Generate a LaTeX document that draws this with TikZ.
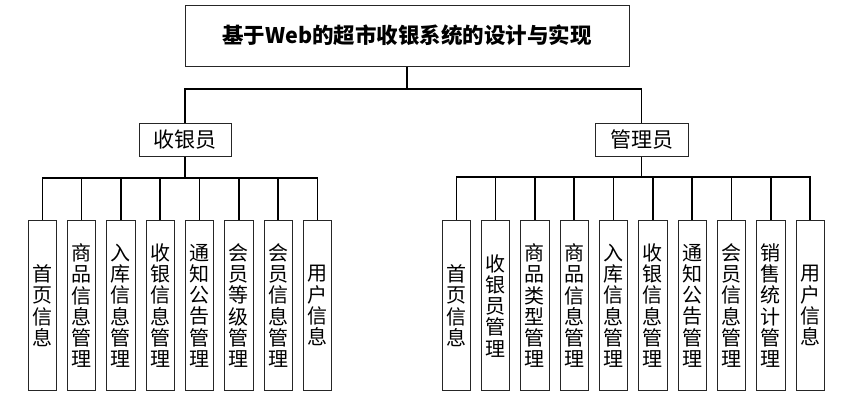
\documentclass[tikz,border=0pt]{standalone}
\usepackage{fontspec}
\newfontfamily\cjk{Noto Sans CJK SC}
\begin{document}
\begin{tikzpicture}[x=1pt,y=-1pt,
  box/.style={draw=black!85,line width=1pt,inner sep=0pt,align=center},
  leaf/.style={box,minimum width=28.3pt,minimum height=170pt,font=\cjk\fontsize{20}{21.3}\selectfont},
  role/.style={box,minimum width=92pt,minimum height=33pt,font=\cjk\fontsize{21}{24}\selectfont},
  conn/.style={line width=1.4pt,black}]
\useasboundingbox (0,0) rectangle (843,402);
\node[box,minimum width=444pt,minimum height=61pt,font=\cjk\bfseries\fontsize{21.5}{24}\selectfont] (title) at (407,35.5) {基于Web的超市收银系统的设计与实现};
\node[role] (cash) at (185,139.5) {收银员};
\node[role,minimum width=93pt] (admin) at (641.5,139.5) {管理员};
\coordinate (j0) at (407,89);
\draw[conn] (title.south) -- (j0);
\draw[conn] (j0) -| (cash.north);
\draw[conn] (j0) -| (admin.north);
% cashier leaves
\foreach \i/\t in {0/{首\\页\\信\\息},1/{商\\品\\信\\息\\管\\理},2/{入\\库\\信\\息\\管\\理},3/{收\\银\\信\\息\\管\\理},4/{通\\知\\公\\告\\管\\理},5/{会\\员\\等\\级\\管\\理},6/{会\\员\\信\\息\\管\\理},7/{用\\户\\信\\息}}{
  \node[leaf] (c\i) at ({42.2+39.33*\i},305.7) {\t};
}
\coordinate (jc) at (185,178);
\draw[conn] (cash.south) -- (jc);
\foreach \i in {0,...,7}{\draw[conn] (jc) -| (c\i.north);}
% admin leaves
\foreach \i/\t in {0/{首\\页\\信\\息},1/{收\\银\\员\\管\\理},2/{商\\品\\类\\型\\管\\理},3/{商\\品\\信\\息\\管\\理},4/{入\\库\\信\\息\\管\\理},5/{收\\银\\信\\息\\管\\理},6/{通\\知\\公\\告\\管\\理},7/{会\\员\\信\\息\\管\\理},8/{销\\售\\统\\计\\管\\理},9/{用\\户\\信\\息}}{
  \node[leaf] (a\i) at ({456.2+39.33*\i},305.7) {\t};
}
\coordinate (ja) at (641.5,177);
\draw[conn] (admin.south) -- (ja);
\foreach \i in {0,...,9}{\draw[conn] (ja) -| (a\i.north);}
\end{tikzpicture}
\end{document}
